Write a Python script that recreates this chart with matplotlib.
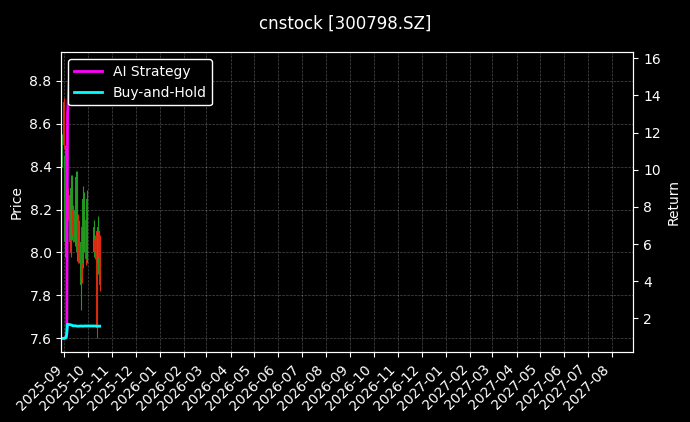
import matplotlib
matplotlib.use("Agg")
import matplotlib.pyplot as plt
import matplotlib.dates as mdates
import pandas as pd
import numpy as np

# ---- data ----
dates = ["2025-08-29", "2025-09-01", "2025-09-02", "2025-09-03", "2025-09-04", "2025-09-05",
         "2025-09-08", "2025-09-09", "2025-09-10", "2025-09-11", "2025-09-12",
         "2025-09-15", "2025-09-16", "2025-09-17", "2025-09-18", "2025-09-19",
         "2025-09-22", "2025-09-23", "2025-09-24", "2025-09-25", "2025-09-26",
         "2025-09-29", "2025-09-30", "2025-10-09", "2025-10-10",
         "2025-10-13", "2025-10-14", "2025-10-15", "2025-10-16"]
open_ = [8.45, 8.70, 8.05, 8.45, 8.15, 8.25,
         8.27, 8.20, 8.06, 8.10, 8.20,
         8.05, 8.10, 8.00, 8.15, 8.12,
         7.85, 8.12, 7.98, 7.95, 8.02,
         8.15, 7.97, 8.00, 8.06,
         8.10, 7.95, 8.10, 8.05]
high = [8.55, 8.72, 8.50, 8.48, 8.28, 8.30,
        8.28, 8.25, 8.36, 8.36, 8.22,
        8.25, 8.38, 8.38, 8.18, 8.15,
        8.10, 8.14, 8.00, 8.31, 8.28,
        8.16, 8.29, 8.15, 8.08,
        8.12, 8.17, 8.10, 8.08]
low = [8.40, 8.48, 7.98, 8.10, 8.12, 8.15,
       8.00, 7.98, 8.04, 8.06, 8.05,
       8.03, 8.06, 7.96, 7.95, 7.95,
       7.73, 7.86, 7.88, 7.93, 8.00,
       7.94, 7.95, 7.98, 7.97,
       7.60, 7.90, 7.95, 7.82]
close = [8.50, 8.50, 8.45, 8.15, 8.25, 8.20,
         8.05, 8.00, 8.30, 8.25, 8.08,
         8.20, 8.35, 8.30, 8.00, 7.98,
         8.05, 7.88, 7.90, 8.25, 8.20,
         7.97, 8.25, 8.12, 8.00,
         7.65, 8.12, 7.98, 7.85]
ai_strategy = [0.90, 0.92, 0.94, 0.97, 1.05, 13.00,
               15.59, 15.50, 15.45, 15.50, 15.40,
               15.40, 15.45, 15.50, 15.40, 15.35,
               15.30, 15.30, 15.35, 15.40, 15.40,
               15.35, 15.40, 15.40, 15.35,
               15.30, 15.35, 15.30, 15.30]
buy_hold = [0.92, 0.93, 0.94, 0.96, 1.20, 1.68,
            1.66, 1.65, 1.64, 1.62, 1.60,
            1.60, 1.59, 1.58, 1.58, 1.58,
            1.59, 1.59, 1.58, 1.58, 1.59,
            1.59, 1.59, 1.59, 1.59,
            1.58, 1.58, 1.58, 1.58]

title = "cnstock [300798.SZ]"

# ---- plot ----
plt.style.use("dark_background")
fig = plt.figure(figsize=(6.9, 4.22), dpi=100)
ax = fig.add_axes([0.0888, 0.165, 0.8290, 0.711])
ax2 = ax.twinx()

d = pd.to_datetime(dates)
o = np.array(open_); h = np.array(high); l = np.array(low); c = np.array(close)
up = c >= o
col = np.where(up, "#1f9a1f", "#dc2a0e")
ax.vlines(d, l, h, colors=col, linewidth=0.8)
ax.vlines(d, np.minimum(o, c), np.maximum(o, c), colors=col, linewidth=1.4)

l1, = ax2.plot(d, ai_strategy, color="magenta", linewidth=2, label="AI Strategy")
l2, = ax2.plot(d, buy_hold, color="cyan", linewidth=2, label="Buy-and-Hold")

ax.set_xlim(pd.Timestamp("2025-08-28"), pd.Timestamp("2027-08-28"))
ax.set_ylim(7.535, 8.932)
ax2.set_ylim(0.169, 16.32)

ax.xaxis.set_major_locator(mdates.MonthLocator())
ax.xaxis.set_major_formatter(mdates.DateFormatter("%Y-%m"))
for lab in ax.get_xticklabels():
    lab.set_rotation(45)
    lab.set_ha("right")

ax.grid(True, linestyle="--", linewidth=0.5, alpha=0.3)
ax.set_ylabel("Price")
ax2.set_ylabel("Return")

leg = ax2.legend(handles=[l1, l2], loc="upper left", framealpha=1.0, edgecolor="white")
fig.suptitle(title, fontsize=12, y=0.965)

fig.savefig("out.png", dpi=100)
